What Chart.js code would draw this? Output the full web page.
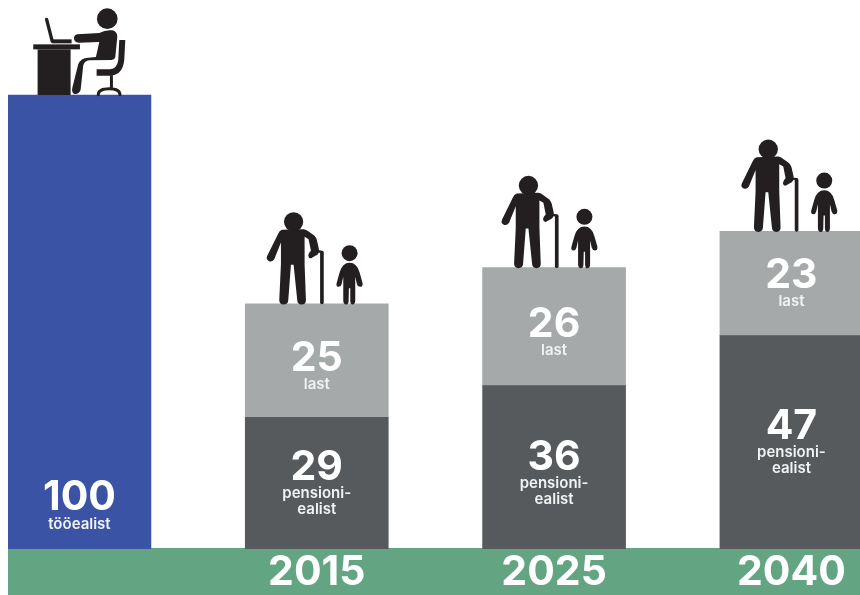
<!DOCTYPE html>
<html lang="et">
<head>
<meta charset="utf-8">
<title>Ülalpeetavate määr</title>
<script src="https://cdn.jsdelivr.net/npm/chart.js@4"></script>
<style>
  html, body { margin: 0; padding: 0; background: #fff; }
  canvas { display: block; }
</style>
</head>
<body>
<canvas id="chart" width="860" height="595"></canvas>
<script>
const categories = ['', '2015', '2025', '2040'];
const tooealised = [100, null, null, null];
const pensioniealised = [null, 29, 36, 47];
const lapsed = [null, 25, 26, 23];

const tooealisedLabel = ['tööealist'];
const pensioniealisedLabel = ['pensioni-', 'ealist'];
const lapsedLabel = ['last'];

// px offset of the big number from the middle of each bar segment
const numberShift = {
  tooealised: [176],
  pensioniealised: [-16, -10, -16],
  lapsed: [-2, -2, -8]
};
// the 2025 figures sit a little left of the bar middle
const iconNudge = [0, 0, -2.5, 0];

const INK = '#231f20';
const FONT = 'Inter, Lato, sans-serif';

function points(values) {
  return values.map((v, i) => ({ x: i, y: v }));
}

// icons are traced at 3x, with 0,0 on the top middle of the bar
function drawIcon(ctx, bar, nudge, ox, oy, fn) {
  ctx.save();
  ctx.translate(bar.x + nudge, bar.y);
  ctx.scale(1 / 3, 1 / 3);
  ctx.translate(-ox, -oy);
  ctx.fillStyle = INK;
  ctx.strokeStyle = INK;
  ctx.lineCap = 'round';
  fn(ctx);
  ctx.restore();
}

function circle(ctx, x, y, r) {
  ctx.beginPath();
  ctx.arc(x, y, r, 0, Math.PI * 2);
  ctx.fill();
}

function drawWorker(ctx) {
  circle(ctx, 322, 56, 31);
  ctx.fill(new Path2D('M232 103 L298 99 Q318 88 338 91 Q353 96 352 112 L346 172 Q343 181 334 180 L268 181 Q254 182 250 196 L242 270 Q236 284 224 282 Q214 278 217 264 L235 192 Q242 174 265 173 L288 171 L298 126 L236 128 Q222 126 222 114 Q223 105 232 103 Z'));
  ctx.fill(new Path2D('M358 120 L376 120 L373 180 Q369 222 335 227 L290 227 L290 208 L330 208 Q352 205 355 180 Z'));
  ctx.fillRect(330, 226, 9, 38);
  ctx.lineWidth = 9;
  ctx.stroke(new Path2D('M295 284 Q295 266 328 266 Q360 266 360 284'));
  ctx.fillRect(100, 133, 140, 15);
  ctx.fillRect(113, 148, 99, 137);
  ctx.lineWidth = 10;
  ctx.stroke(new Path2D('M140 58 L157 124'));
  ctx.fillRect(157, 118, 58, 12);
}

function drawElderAndChild(ctx) {
  circle(ctx, 160, 63, 29);
  ctx.fill(new Path2D('M125 87 L190 85 Q198 86 205 92 L222 104 Q228 110 230 118 L236 145 Q238 160 225 165 L213 172 Q205 174 204 164 Q205 156 212 150 L205 115 L193 108 L193 190 L197 298 Q197 311 184 311 Q172 311 171 298 L160 192 L152 192 L144 298 Q143 311 130 311 Q118 311 117 298 L122 190 L122 125 L102 175 Q96 184 86 181 Q76 176 81 165 L113 100 Q117 90 125 87 Z'));
  ctx.lineWidth = 11;
  ctx.stroke(new Path2D('M245 155 L245 305'));
  ctx.lineWidth = 7;
  ctx.stroke(new Path2D('M214 156 Q226 148 244 153'));
  circle(ctx, 328, 157, 24);
  ctx.fill(new Path2D('M328 186 Q350 186 358 215 L367 247 Q368 258 360 258 Q352 258 350 250 L345 228 L345 300 Q345 311 336 311 Q331 311 330 302 L330 262 L326 262 L325 302 Q324 311 318 311 Q309 311 309 300 L309 228 L304 250 Q302 258 295 258 Q287 258 289 247 L298 215 Q306 186 328 186 Z'));
}

function writeBarText(ctx, bar, value, lines, shift) {
  const mid = (bar.y + bar.base) / 2;
  const y = mid + shift;
  ctx.fillStyle = '#fff';
  ctx.textAlign = 'center';
  ctx.textBaseline = 'middle';
  ctx.font = '700 41px ' + FONT;
  ctx.fillText(String(value), bar.x, y);
  ctx.fillStyle = '#f1f2f2';
  ctx.font = '600 15px ' + FONT;
  lines.forEach((line, i) => ctx.fillText(line, bar.x, y + 26 + i * 16.5));
}

const stripPlugin = {
  id: 'strip',
  beforeDraw(chart) {
    const { ctx, chartArea, height } = chart;
    ctx.fillStyle = '#63a582';
    ctx.fillRect(chartArea.left, chartArea.bottom - 1, chartArea.right - chartArea.left, height - chartArea.bottom + 1);
  }
};

const overlayPlugin = {
  id: 'overlay',
  afterDatasetsDraw(chart) {
    const { ctx } = chart;
    const segments = [
      { dataset: 0, values: tooealised, lines: tooealisedLabel, shift: numberShift.tooealised },
      { dataset: 1, values: pensioniealised, lines: pensioniealisedLabel, shift: numberShift.pensioniealised },
      { dataset: 2, values: lapsed, lines: lapsedLabel, shift: numberShift.lapsed }
    ];
    segments.forEach(s => {
      const bars = chart.getDatasetMeta(s.dataset).data;
      let n = 0;
      s.values.forEach((v, i) => {
        if (v == null) return;
        writeBarText(ctx, bars[i], v, s.lines, s.shift[n]);
        n++;
      });
    });
    drawIcon(ctx, chart.getDatasetMeta(0).data[0], iconNudge[0], 238.5, 285, drawWorker);
    const top = chart.getDatasetMeta(2).data;
    lapsed.forEach((v, i) => {
      if (v != null) drawIcon(ctx, top[i], iconNudge[i], 229.5, 309, drawElderAndChild);
    });
  }
};

new Chart(document.getElementById('chart').getContext('2d'), {
  type: 'bar',
  data: {
    datasets: [
      { label: 'tööealist', data: points(tooealised), backgroundColor: '#3a53a4' },
      { label: 'pensioniealist', data: points(pensioniealised), backgroundColor: '#565a5c' },
      { label: 'last', data: points(lapsed), backgroundColor: '#a6a9a9' }
    ]
  },
  plugins: [stripPlugin, overlayPlugin],
  options: {
    responsive: false,
    animation: false,
    barThickness: 143,
    layout: { padding: { left: 8, right: 0, top: 0, bottom: 0 } },
    plugins: { legend: { display: false }, tooltip: { enabled: false } },
    scales: {
      x: {
        type: 'linear',
        offset: false,
        stacked: true,
        min: -0.301,
        max: 3.289,
        afterFit(scale) { scale.height = 46; },
        grid: { display: false, offset: false },
        border: { display: false },
        ticks: {
          stepSize: 1,
          includeBounds: false,
          autoSkip: false,
          maxRotation: 0,
          padding: -5,
          color: '#fff',
          font: { family: FONT, size: 41, weight: '700', lineHeight: 1 },
          callback: v => (Number.isInteger(v) ? categories[v] : '')
        }
      },
      y: {
        display: false,
        stacked: true,
        min: 0,
        max: 120.93
      }
    }
  }
});
</script>
</body>
</html>
